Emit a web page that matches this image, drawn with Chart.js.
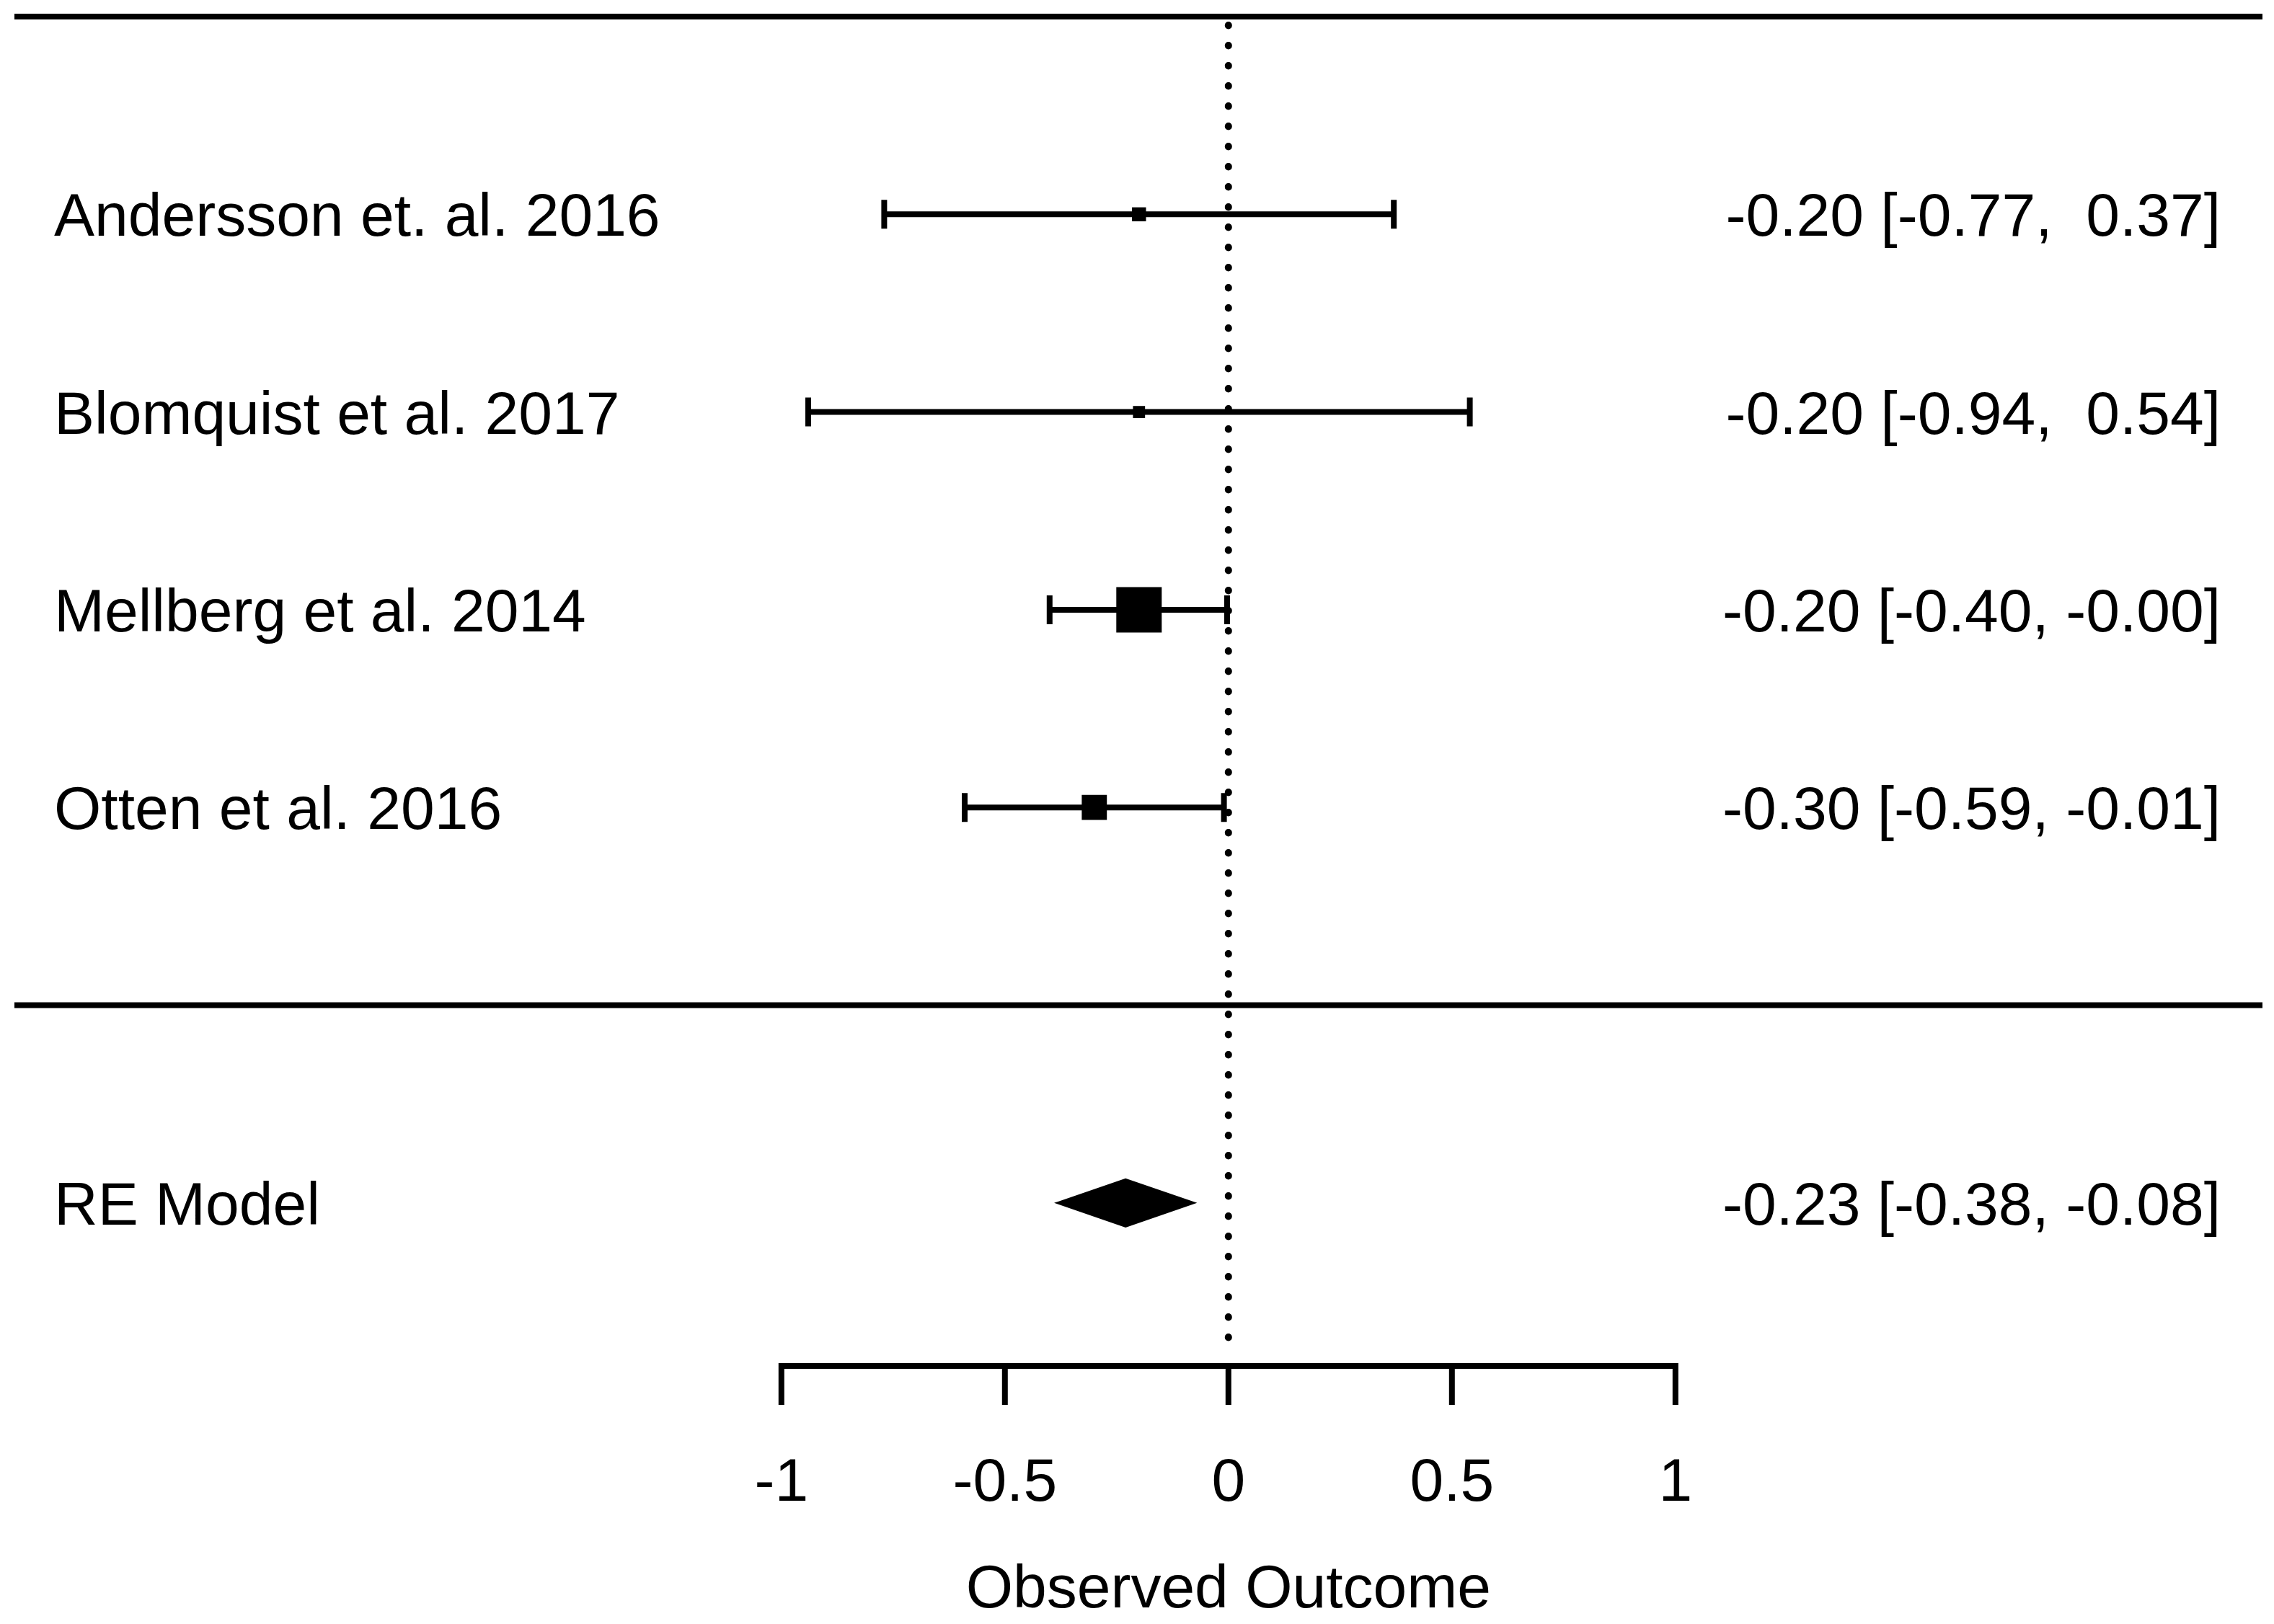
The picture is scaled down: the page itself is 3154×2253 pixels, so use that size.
<!DOCTYPE html>
<html>
<head>
<meta charset="utf-8">
<script src="https://cdn.jsdelivr.net/npm/chart.js@4.4.1/dist/chart.umd.min.js"></script>
<style>
  html, body { margin: 0; padding: 0; background: #fff; }
  #forest { display: block; }
</style>
</head>
<body>
<canvas id="forest" width="3154" height="2253"></canvas>
<script>
// study data
var studies = ['Andersson et. al. 2016', 'Blomquist et al. 2017', 'Mellberg et al. 2014', 'Otten et al. 2016'];
var estimates = [-0.20, -0.20, -0.20, -0.30];
var lower = [-0.77, -0.94, -0.40, -0.59];
var upper = [0.37, 0.54, -0.003, -0.01];
var weights = [14.5, 12.5, 47, 26];
var rows = [4, 3, 2, 1];

// pooled estimate
var summaryLabel = 'RE Model';
var summaryEst = -0.23;
var summaryLower = -0.38;
var summaryUpper = -0.08;
var summaryRow = -1;

// axis
var xTicks = [-1, -0.5, 0, 0.5, 1];
var xTickLabels = ['-1', '-0.5', '0', '0.5', '1'];
var xTitle = 'Observed Outcome';

var FONT = '84px "Liberation Sans", Arial, sans-serif';
var MAX_BOX = 63;
var maxW = Math.max.apply(null, weights);

function fmt(v) {
  var s = v.toFixed(2);
  while (s.length < 5) s = ' ' + s;
  return s;
}

var forestPlugin = {
  id: 'forest',
  beforeDatasetsDraw: function(chart) {
    var ctx = chart.ctx, xs = chart.scales.x, ys = chart.scales.y, a = chart.chartArea;
    ctx.save();
    ctx.strokeStyle = '#000';
    ctx.fillStyle = '#000';

    // horizontal rules (top and above summary)
    ctx.lineWidth = 8;
    ctx.lineCap = 'butt';
    [rows[0] + 1, 0].forEach(function(r) {
      var y = ys.getPixelForValue(r);
      ctx.beginPath();
      ctx.moveTo(a.left + 20, y);
      ctx.lineTo(a.right - 16, y);
      ctx.stroke();
    });

    // dotted reference line at 0
    var x0 = xs.getPixelForValue(0);
    ctx.save();
    ctx.lineWidth = 10;
    ctx.lineCap = 'round';
    ctx.setLineDash([0.5, 27.5]);
    ctx.beginPath();
    ctx.moveTo(x0, ys.getPixelForValue(rows[0] + 1) + 12);
    ctx.lineTo(x0, ys.getPixelForValue(-1.76));
    ctx.stroke();
    ctx.restore();

    // confidence intervals
    ctx.lineWidth = 8;
    rows.forEach(function(r, i) {
      var y = ys.getPixelForValue(r);
      var x1 = xs.getPixelForValue(lower[i]);
      var x2 = xs.getPixelForValue(upper[i]);
      ctx.beginPath();
      ctx.moveTo(x1, y); ctx.lineTo(x2, y);
      ctx.moveTo(x1, y - 20); ctx.lineTo(x1, y + 20);
      ctx.moveTo(x2, y - 20); ctx.lineTo(x2, y + 20);
      ctx.stroke();
    });

    // summary diamond
    var ySum = ys.getPixelForValue(summaryRow);
    ctx.beginPath();
    ctx.moveTo(xs.getPixelForValue(summaryLower), ySum);
    ctx.lineTo(xs.getPixelForValue(summaryEst), ySum - 32);
    ctx.lineTo(xs.getPixelForValue(summaryUpper), ySum);
    ctx.lineTo(xs.getPixelForValue(summaryEst), ySum + 32);
    ctx.closePath();
    ctx.fill();
    ctx.lineWidth = 4;
    ctx.stroke();

    // x axis from -1 to 1
    var yAx = ys.getPixelForValue(-1.825);
    ctx.lineWidth = 8;
    ctx.lineCap = 'square';
    ctx.beginPath();
    ctx.moveTo(xs.getPixelForValue(xTicks[0]), yAx);
    ctx.lineTo(xs.getPixelForValue(xTicks[xTicks.length - 1]), yAx);
    xTicks.forEach(function(t) {
      var x = xs.getPixelForValue(t);
      ctx.moveTo(x, yAx);
      ctx.lineTo(x, yAx + 50);
    });
    ctx.stroke();

    // text
    ctx.font = FONT;
    ctx.textBaseline = 'alphabetic';
    ctx.textAlign = 'center';
    xTicks.forEach(function(t, i) {
      ctx.fillText(xTickLabels[i], xs.getPixelForValue(t), yAx + 187);
    });
    ctx.fillText(xTitle, x0, yAx + 335);

    var labelRows = rows.concat([summaryRow]);
    var labels = studies.concat([summaryLabel]);
    var ests = estimates.concat([summaryEst]);
    var los = lower.concat([summaryLower]);
    var his = upper.concat([summaryUpper]);
    labelRows.forEach(function(r, i) {
      var y = ys.getPixelForValue(r) + 30;
      ctx.textAlign = 'left';
      ctx.fillText(labels[i], a.left + 75, y);
      ctx.textAlign = 'right';
      ctx.fillText(ests[i].toFixed(2) + ' [' + fmt(los[i]) + ', ' + fmt(his[i]) + ']', a.right - 74, y);
    });
    ctx.restore();
  }
};

var ctx = document.getElementById('forest').getContext('2d');
var chart = new Chart(ctx, {
  type: 'scatter',
  data: {
    datasets: [{
      data: rows.map(function(r, i) { return { x: estimates[i], y: r }; }),
      pointStyle: 'rect',
      backgroundColor: '#000',
      borderColor: '#000',
      pointBorderWidth: 0,
      pointRadius: function(c) {
        var side = MAX_BOX * weights[c.dataIndex] / maxW;
        return side / Math.SQRT2;
      }
    }]
  },
  options: {
    responsive: false,
    devicePixelRatio: 1,
    animation: false,
    layout: { padding: 0, autoPadding: false },
    plugins: { legend: { display: false }, tooltip: { enabled: false }, title: { display: false } },
    scales: {
      x: { type: 'linear', min: -2.748, max: 2.339, display: false },
      y: { type: 'linear', min: -3.130, max: 5.084, display: false }
    }
  },
  plugins: [forestPlugin]
});
</script>
</body>
</html>
